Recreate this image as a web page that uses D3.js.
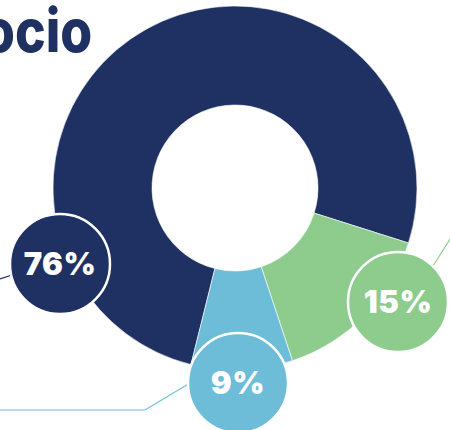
<!DOCTYPE html>
<html>
<head>
<meta charset="utf-8">
<script src="https://cdn.jsdelivr.net/npm/d3@7"></script>
<style>
  body { margin: 0; background: #fff; }
  svg { display: block; }
</style>
</head>
<body>
<div class="chart"></div>
<script>
var svgWidth = 450;
var svgHeight = 430;

// data
var labels = ["76%", "15%", "9%"];
var values = [76, 15, 9];
var colors = ["#1f3162", "#8dcc8d", "#6dbdd9"];
var title = "ocio";

var cx = 235, cy = 188;
var outerR = 182, innerR = 83;

var svg = d3.select(".chart")
  .append("svg")
  .attr("width", svgWidth)
  .attr("height", svgHeight);

// title fragment, clipped at the left edge in the original
svg.append("text")
  .attr("transform", "translate(-17,52) scale(0.86,1)")
  .attr("font-family", "Inter, 'Open Sans', sans-serif")
  .attr("font-weight", 800)
  .attr("font-size", 60)
  .attr("fill", "#1f3162")
  .text(title);

var pie = d3.pie()
  .sort(null)
  .startAngle(-166 * Math.PI / 180)
  .endAngle(194 * Math.PI / 180);

var arc = d3.arc()
  .innerRadius(innerR)
  .outerRadius(outerR);

var chart = svg.append("g")
  .attr("transform", "translate(" + cx + "," + cy + ")");

chart.selectAll("path")
  .data(pie(values))
  .enter().append("path")
    .attr("d", arc)
    .attr("fill", function(d, i) { return colors[i]; })
    .attr("stroke", "#fff")
    .attr("stroke-width", 0.6);

// leader lines, then the bubbles on top
var leaders = [
  [[0, 279], [12, 275]],
  [[433, 266], [452, 236]],
  [[0, 410], [145, 410], [190, 383]]
];
var line = d3.line();
svg.selectAll("path.leader")
  .data(leaders)
  .enter().append("path")
    .attr("class", "leader")
    .attr("d", line)
    .attr("fill", "none")
    .attr("stroke", function(d, i) { return colors[i]; })
    .attr("stroke-width", 1.2);

var bubbles = [[60, 264], [398, 302], [238, 383]];
var bubbleR = 50;

var bub = svg.selectAll("g.bubble")
  .data(bubbles)
  .enter().append("g")
    .attr("class", "bubble")
    .attr("transform", function(d) { return "translate(" + d[0] + "," + d[1] + ")"; });

bub.append("circle")
  .attr("r", bubbleR)
  .attr("fill", function(d, i) { return colors[i]; })
  .attr("stroke", "#fff")
  .attr("stroke-width", 2.5);

bub.append("text")
  .attr("text-anchor", "middle")
  .attr("dy", "0.36em")
  .attr("font-family", "Inter, 'Open Sans', sans-serif")
  .attr("font-weight", 900)
  .attr("font-size", 31)
  .attr("letter-spacing", 0.5)
  .attr("fill", "#fff")
  .text(function(d, i) { return labels[i]; });
</script>
</body>
</html>
